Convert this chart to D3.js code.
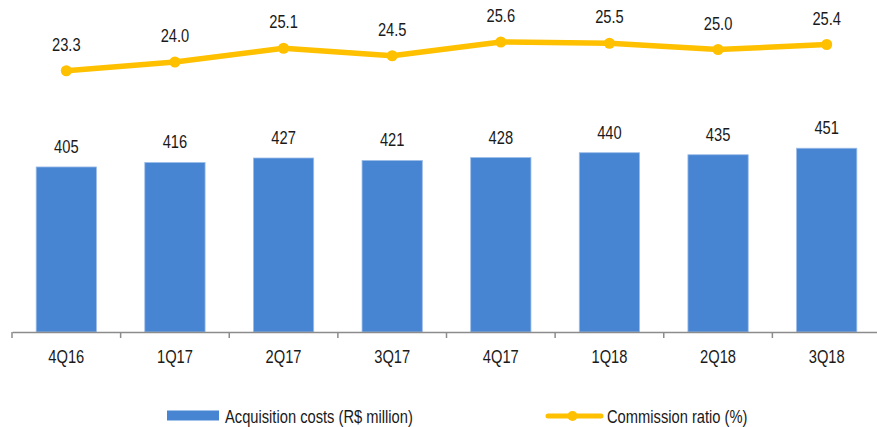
<!DOCTYPE html>
<html>
<head>
<meta charset="utf-8">
<script src="https://cdn.jsdelivr.net/npm/d3@7"></script>
<style>
  html, body { margin: 0; padding: 0; background: #fff; }
  svg { display: block; font-family: "Liberation Sans", Arial, sans-serif; }
</style>
</head>
<body>
<svg id="chart" width="877" height="427"></svg>
<script>
// Quarterly data
const quarters = ["4Q16", "1Q17", "2Q17", "3Q17", "4Q17", "1Q18", "2Q18", "3Q18"];
const acquisitionCosts = [405, 416, 427, 421, 428, 440, 435, 451];   // R$ million
const commissionRatio = [23.3, 24.0, 25.1, 24.5, 25.6, 25.5, 25.0, 25.4]; // %
const barLegendLabel = "Acquisition costs (R$ million)";
const lineLegendLabel = "Commission ratio (%)";

const barColor = "#4785d3";
const lineColor = "#ffc000";
const textColor = "#1a1a1a";
const fontSize = 17.5;
const squeeze = "scale(0.84,1)"; // condensed lettering

const svg = d3.select("#chart");
const baseY = 332;

const x = d3.scaleBand().domain(quarters).range([12, 881]).padding(0);
const yBar = d3.scaleLinear().domain([0, 800]).range([baseY, 6]);
const yLine = d3.scaleLinear().domain([2.4, 27.2]).range([baseY, 22]);
const barW = x.bandwidth() * 0.555;
const cx = d => x(d) + x.bandwidth() / 2;

// Places a condensed text label with its anchor at (px, py)
function label(parent, px, py, str, anchor) {
  parent.append("g")
    .attr("transform", `translate(${px},${py})`)
    .append("text")
    .attr("transform", squeeze)
    .attr("text-anchor", anchor || "middle")
    .attr("font-size", fontSize)
    .attr("fill", textColor)
    .text(str);
}

// Bars
svg.append("g").selectAll("rect")
  .data(quarters)
  .join("rect")
  .attr("x", (d) => cx(d) - barW / 2)
  .attr("y", (d, i) => yBar(acquisitionCosts[i]))
  .attr("width", barW)
  .attr("height", (d, i) => baseY - yBar(acquisitionCosts[i]))
  .attr("fill", barColor)
  .attr("stroke", "#9dbde8")
  .attr("stroke-width", 0.8);

// Bar value labels
const barLabels = svg.append("g");
quarters.forEach((q, i) => label(barLabels, cx(q), yBar(acquisitionCosts[i]) - 14, acquisitionCosts[i]));

// Category axis
const axis = d3.axisBottom(x).tickSize(0).tickFormat(d => d);
const axisG = svg.append("g").attr("transform", `translate(0,${baseY})`).call(axis);
axisG.select(".domain").attr("stroke", "#8c8c8c").attr("stroke-width", 1.5);
axisG.selectAll(".tick text")
  .attr("dy", 0)
  .attr("y", 31)
  .attr("transform", squeeze)
  .attr("font-size", fontSize)
  .attr("font-family", "Liberation Sans, Arial, sans-serif")
  .attr("fill", textColor);
// Separator ticks between categories
svg.append("g").selectAll("line")
  .data(quarters)
  .join("line")
  .attr("x1", d => x(d)).attr("x2", d => x(d))
  .attr("y1", baseY).attr("y2", baseY + 6)
  .attr("stroke", "#8c8c8c").attr("stroke-width", 1.5);

// Commission ratio line
const line = d3.line()
  .x((d, i) => cx(quarters[i]))
  .y(d => yLine(d));
svg.append("path")
  .datum(commissionRatio)
  .attr("d", line)
  .attr("fill", "none")
  .attr("stroke", lineColor)
  .attr("stroke-width", 5.5)
  .attr("stroke-linejoin", "round");
svg.append("g").selectAll("circle")
  .data(commissionRatio)
  .join("circle")
  .attr("cx", (d, i) => cx(quarters[i]))
  .attr("cy", d => yLine(d))
  .attr("r", 5.5)
  .attr("fill", lineColor);
const lineLabels = svg.append("g");
commissionRatio.forEach((v, i) => label(lineLabels, cx(quarters[i]), yLine(v) - 20, v.toFixed(1)));

// Legend
const lg = svg.append("g");
lg.append("rect").attr("x", 167).attr("y", 410.5).attr("width", 52).attr("height", 10).attr("fill", barColor);
label(lg, 225, 423, barLegendLabel, "start");
lg.append("line").attr("x1", 548).attr("x2", 601).attr("y1", 416).attr("y2", 416)
  .attr("stroke", lineColor).attr("stroke-width", 5).attr("stroke-linecap", "round");
lg.append("circle").attr("cx", 572.5).attr("cy", 416).attr("r", 5).attr("fill", lineColor);
label(lg, 607, 423, lineLegendLabel, "start");
</script>
</body>
</html>
